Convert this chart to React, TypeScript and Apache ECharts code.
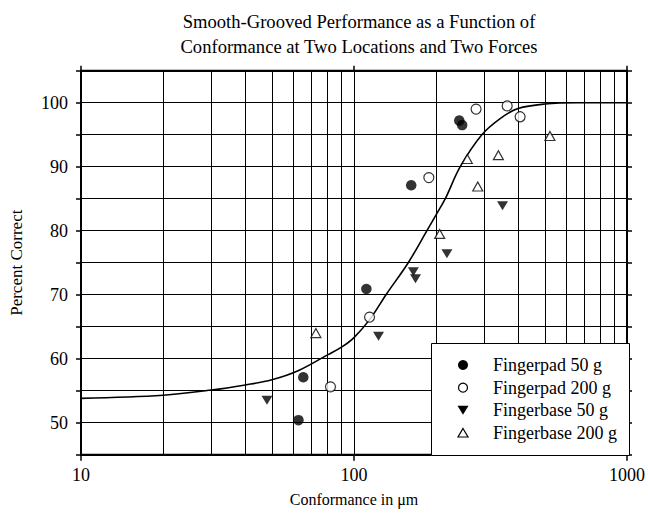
import React, { useEffect, useRef } from "react";
import * as echarts from "echarts";

const titleLines = [
  "Smooth-Grooved Performance as a Function of",
  "Conformance at Two Locations and Two Forces",
];
const xName = "Conformance in \u03bcm";
const yName = "Percent Correct";

const minorX = [20, 30, 40, 50, 60, 70, 80, 90, 200, 300, 400, 500, 600, 700, 800, 900];
const yLabelValues = [50, 60, 70, 80, 90, 100];

const padX50 = [62.6, 65.2, 111, 162, 243, 249];
const padY50 = [50.4, 57.1, 70.9, 87.1, 97.2, 96.5];
const padX200 = [82, 114, 188, 280, 364, 406];
const padY200 = [55.6, 66.5, 88.3, 99.0, 99.5, 97.8];
const baseX50 = [48, 123, 165, 168, 219, 350];
const baseY50 = [53.5, 63.5, 73.6, 72.5, 76.4, 83.9];
const baseX200 = [72.5, 206, 260, 284, 338, 522];
const baseY200 = [64.0, 79.5, 91.2, 86.9, 91.8, 94.8];

const curveX = [10, 20, 30, 40, 50, 63, 80, 90, 100, 115, 131, 158, 185, 205, 216, 245, 294, 345, 399, 500, 660, 1000];
const curveY = [53.8, 54.3, 55.1, 55.9, 56.7, 58.2, 60.6, 61.8, 63.3, 66.3, 70.0, 75.0, 80.0, 83.3, 85.0, 90.0, 95.0, 97.6, 99.1, 99.8, 100, 100];

const seriesNames = ["Fingerpad 50 g", "Fingerpad 200 g", "Fingerbase 50 g", "Fingerbase 200 g"];

const FONT = "Liberation Serif";
const DOWN_TRI = "path://M0,0L20,0L10,17Z";
const UP_TRI = "path://M10,0L20,17L0,17Z";

const zip = (xs: number[], ys: number[]) => xs.map((x, i) => [x, ys[i]]);

function legendGraphic() {
  const boxX = 431;
  const boxY = 343;
  const boxW = 198;
  const boxH = 112;
  const symX = 463;
  const textX = 493;
  const rowY0 = 365;
  const rowStep = 22.67;
  const Z = 100;
  const rows = seriesNames.map((_, i) => rowY0 + i * rowStep);
  const els: any[] = [
    {
      type: "rect",
      z: Z,
      shape: { x: boxX + 0.5, y: boxY + 0.5, width: boxW, height: boxH },
      style: { fill: "#fff", stroke: "#000", lineWidth: 1 },
    },
    { type: "circle", z: Z + 1, shape: { cx: symX, cy: rows[0], r: 5 }, style: { fill: "#000" } },
    {
      type: "circle",
      z: Z + 1,
      shape: { cx: symX, cy: rows[1], r: 4.5 },
      style: { fill: "#fff", stroke: "#000", lineWidth: 1.2 },
    },
    {
      type: "polygon",
      z: Z + 1,
      shape: { points: [[symX - 5.5, rows[2] - 4.5], [symX + 5.5, rows[2] - 4.5], [symX, rows[2] + 4.5]] },
      style: { fill: "#000" },
    },
    {
      type: "polygon",
      z: Z + 1,
      shape: { points: [[symX, rows[3] - 4.5], [symX + 5, rows[3] + 4], [symX - 5, rows[3] + 4]] },
      style: { fill: "#fff", stroke: "#000", lineWidth: 1.2 },
    },
  ];
  seriesNames.forEach((name, i) => {
    els.push({
      type: "text",
      z: Z + 1,
      x: textX,
      y: rows[i],
      style: {
        text: name,
        fontFamily: FONT,
        fontSize: 18,
        fill: "#000",
        textAlign: "left",
        verticalAlign: "middle",
      },
    });
  });
  return els;
}

export default function App() {
  const ref = useRef<HTMLDivElement>(null);
  useEffect(() => {
    if (!ref.current) return;
    const chart = echarts.init(ref.current, null, { renderer: "svg" });
    const axisCommon = {
      type: "log" as const,
      logBase: 10,
      min: 10,
      max: 1000,
    };
    chart.setOption({
      animation: false,
      backgroundColor: "#fff",
      textStyle: { fontFamily: FONT, color: "#000" },
      title: {
        text: titleLines.join("\n"),
        left: 354,
        top: 4,
        textAlign: "center",
        textStyle: {
          fontFamily: FONT,
          fontSize: 18.6,
          fontWeight: "normal",
          color: "#000",
          lineHeight: 25,
        },
      },
      grid: {
        left: 81,
        top: 70.7,
        width: 548,
        height: 384,
        show: true,
        borderColor: "#000",
        borderWidth: 2,
        backgroundColor: "transparent",
      },
      graphic: legendGraphic(),
      xAxis: [
        {
          ...axisCommon,
          position: "bottom",
          name: xName,
          nameLocation: "middle",
          nameGap: 37,
          nameTextStyle: { fontFamily: FONT, fontSize: 16, color: "#000" },
          axisLine: { show: true, lineStyle: { color: "#000", width: 2 } },
          axisTick: { show: true, inside: false, length: 6, lineStyle: { color: "#000", width: 1.5 } },
          axisLabel: {
            fontFamily: FONT,
            fontSize: 18,
            color: "#000",
            margin: 11,
            formatter: (v: number) => String(Math.round(v)),
          },
          splitLine: { show: true, lineStyle: { color: "#000", width: 1 } },
        },
        {
          ...axisCommon,
          position: "top",
          axisLine: { show: true, lineStyle: { color: "#000", width: 2 } },
          axisTick: { show: true, inside: false, length: 5, lineStyle: { color: "#000", width: 1.5 } },
          axisLabel: { show: false },
          splitLine: { show: false },
        },
      ],
      yAxis: [
        {
          type: "value",
          min: 45,
          max: 105,
          interval: 5,
          name: yName,
          nameLocation: "middle",
          nameGap: 56,
          nameTextStyle: { fontFamily: FONT, fontSize: 17, color: "#000" },
          axisLine: { show: true, lineStyle: { color: "#000", width: 2 } },
          axisTick: { show: true, inside: false, length: 5, lineStyle: { color: "#000", width: 1.5 } },
          axisLabel: {
            fontFamily: FONT,
            fontSize: 18,
            color: "#000",
            margin: 13,
            formatter: (v: number) => (yLabelValues.includes(v) ? String(v) : ""),
          },
          splitLine: { show: true, lineStyle: { color: "#000", width: 1 } },
        },
        {
          type: "value",
          position: "right",
          min: 45,
          max: 105,
          interval: 5,
          axisLine: { show: true, lineStyle: { color: "#000", width: 2 } },
          axisTick: { show: true, inside: false, length: 5, lineStyle: { color: "#000", width: 1.5 } },
          axisLabel: { show: false },
          splitLine: { show: false },
        },
      ],
      series: [
        {
          name: "fit",
          type: "line",
          data: zip(curveX, curveY),
          smooth: 0.35,
          showSymbol: false,
          symbol: "none",
          lineStyle: { color: "#000", width: 1.6 },
          silent: true,
          z: 3,
          markLine: {
            silent: true,
            symbol: "none",
            label: { show: false },
            lineStyle: { color: "#000", width: 1, type: "solid" },
            data: minorX.map((v) => ({ xAxis: v })),
            z: 1,
          },
        },
        {
          name: seriesNames[0],
          type: "scatter",
          data: zip(padX50, padY50),
          symbol: "circle",
          symbolSize: 10.5,
          itemStyle: { color: "#000" },
          z: 5,
        },
        {
          name: seriesNames[1],
          type: "scatter",
          data: zip(padX200, padY200),
          symbol: "circle",
          symbolSize: 10,
          itemStyle: { color: "#fff", borderColor: "#000", borderWidth: 1.2 },
          z: 5,
        },
        {
          name: seriesNames[2],
          type: "scatter",
          data: zip(baseX50, baseY50),
          symbol: DOWN_TRI,
          symbolSize: [11, 9],
          itemStyle: { color: "#000" },
          z: 5,
        },
        {
          name: seriesNames[3],
          type: "scatter",
          data: zip(baseX200, baseY200),
          symbol: UP_TRI,
          symbolSize: [10, 9],
          itemStyle: { color: "#fff", borderColor: "#000", borderWidth: 1.2 },
          z: 5,
        },
      ],
    });
    return () => chart.dispose();
  }, []);
  return (
    <div
      ref={ref}
      style={{ position: "fixed", left: 0, top: 0, width: 648, height: 513, background: "#fff" }}
    />
  );
}
